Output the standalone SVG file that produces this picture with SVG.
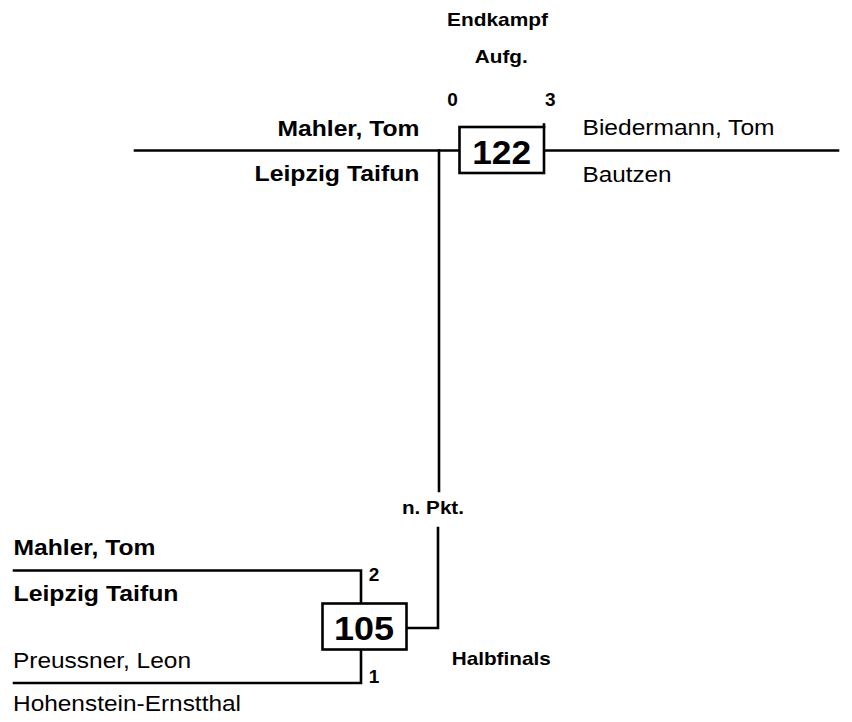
<svg xmlns="http://www.w3.org/2000/svg" width="852" height="722" viewBox="0 0 852 722">
<style>
.ln{fill:none;stroke:#000;stroke-width:2.6;stroke-linecap:square}
.box{fill:#fff;stroke:#000;stroke-width:2.6}
.nm{font-family:"Liberation Sans",Arial,sans-serif;font-size:22px;fill:#000}
.b{font-weight:bold}
.lb{font-family:"Liberation Sans",Arial,sans-serif;font-size:19px;font-weight:bold;fill:#000;text-anchor:middle}
.num{font-family:"Liberation Sans",Arial,sans-serif;font-size:33px;font-weight:bold;fill:#000;text-anchor:middle}
</style>
<rect width="852" height="722" fill="#fff"/>
<g id="connectors">
<path class="ln" d="M135,150.5 H460"/>
<path class="ln" d="M439,150.5 V491"/>
<path class="ln" d="M544,150.5 H838"/>
<path class="ln" d="M544,124.5 V127"/>
<path class="ln" d="M438,528 V628 H406"/>
<path class="ln" d="M14,570.5 H361 V603"/>
<path class="ln" d="M14,683 H361 V650"/>
</g>
<g id="labels">
<text class="lb" x="497.5" y="26" textLength="101" lengthAdjust="spacingAndGlyphs">Endkampf</text>
<text class="lb" x="501.3" y="63" textLength="53" lengthAdjust="spacingAndGlyphs">Aufg.</text>
<text class="lb" x="452.5" y="106">0</text>
<text class="lb" x="550.3" y="106">3</text>
<text class="lb" x="433" y="514" textLength="62" lengthAdjust="spacingAndGlyphs">n. Pkt.</text>
<text class="lb" x="501.2" y="665" textLength="99" lengthAdjust="spacingAndGlyphs">Halbfinals</text>
<text class="lb" x="374" y="581">2</text>
<text class="lb" x="374" y="683">1</text>
</g>
<g id="match-122">
<rect class="box" x="459.5" y="127" width="84.5" height="46"/>
<text class="num" x="501.7" y="164" textLength="59" lengthAdjust="spacingAndGlyphs">122</text>
</g>
<g id="match-105">
<rect class="box" x="322.5" y="603.5" width="84" height="46"/>
<text class="num" x="364" y="639.5" textLength="60" lengthAdjust="spacingAndGlyphs">105</text>
</g>
<g id="final-player-1">
<text class="nm b" x="419.5" y="136" text-anchor="end" textLength="142" lengthAdjust="spacingAndGlyphs">Mahler, Tom</text>
<text class="nm b" x="419.5" y="181" text-anchor="end" textLength="165" lengthAdjust="spacingAndGlyphs">Leipzig Taifun</text>
</g>
<g id="final-player-2">
<text class="nm" x="582.5" y="135" textLength="192" lengthAdjust="spacingAndGlyphs">Biedermann, Tom</text>
<text class="nm" x="582.5" y="181.5" textLength="89" lengthAdjust="spacingAndGlyphs">Bautzen</text>
</g>
<g id="semi-player-1">
<text class="nm b" x="13.5" y="555" textLength="142" lengthAdjust="spacingAndGlyphs">Mahler, Tom</text>
<text class="nm b" x="13.5" y="600.5" textLength="165" lengthAdjust="spacingAndGlyphs">Leipzig Taifun</text>
</g>
<g id="semi-player-2">
<text class="nm" x="13" y="667.5" textLength="178" lengthAdjust="spacingAndGlyphs">Preussner, Leon</text>
<text class="nm" x="13" y="710.5" textLength="228" lengthAdjust="spacingAndGlyphs">Hohenstein-Ernstthal</text>
</g>
</svg>
